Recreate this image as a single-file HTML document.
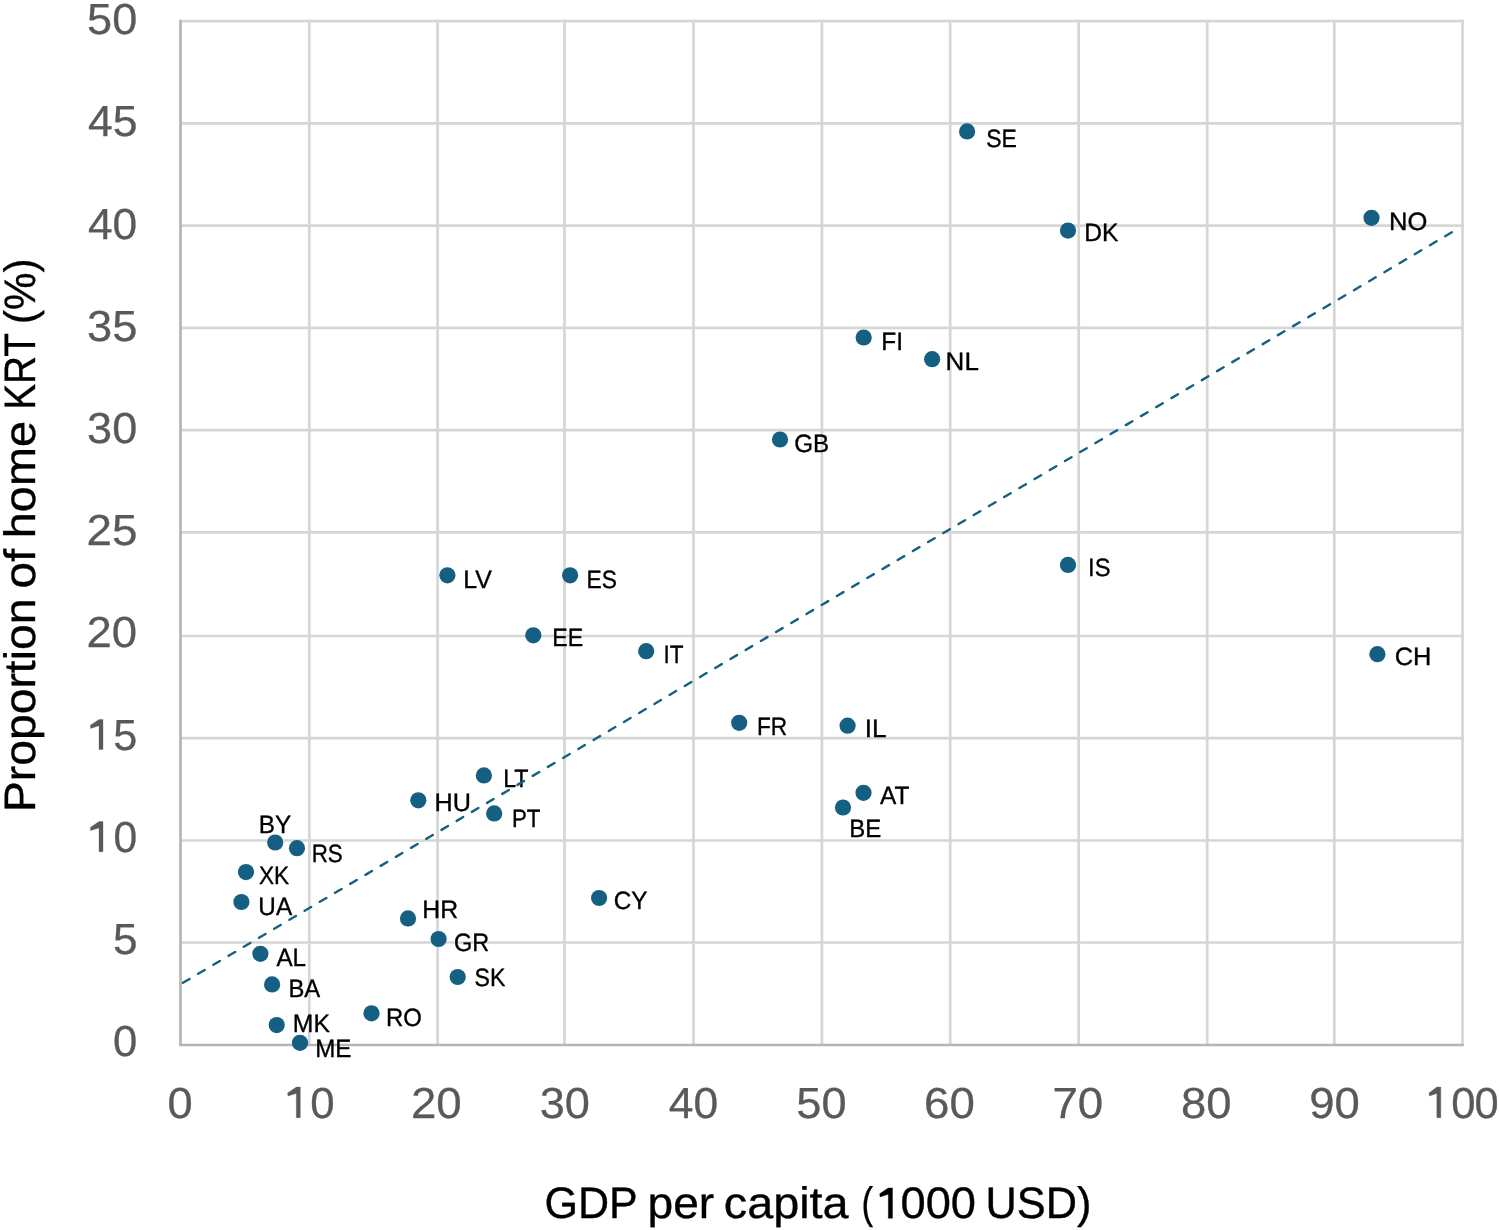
<!DOCTYPE html>
<html><head><meta charset="utf-8"><style>
html,body{margin:0;padding:0;background:#fff;overflow:hidden;}
svg{display:block;will-change:transform;}
text{font-family:"Liberation Sans",sans-serif;text-rendering:geometricPrecision;}
</style></head><body>
<svg width="1499" height="1230" viewBox="0 0 1499 1230">

<line x1="309.3" y1="19.75" x2="309.3" y2="1045.0" stroke="#d6d6d6" stroke-width="2.7"/>
<line x1="437.6" y1="19.75" x2="437.6" y2="1045.0" stroke="#d6d6d6" stroke-width="2.7"/>
<line x1="564.5" y1="19.75" x2="564.5" y2="1045.0" stroke="#d6d6d6" stroke-width="2.7"/>
<line x1="693.5" y1="19.75" x2="693.5" y2="1045.0" stroke="#d6d6d6" stroke-width="2.7"/>
<line x1="821.9" y1="19.75" x2="821.9" y2="1045.0" stroke="#d6d6d6" stroke-width="2.7"/>
<line x1="950.2" y1="19.75" x2="950.2" y2="1045.0" stroke="#d6d6d6" stroke-width="2.7"/>
<line x1="1078.7" y1="19.75" x2="1078.7" y2="1045.0" stroke="#d6d6d6" stroke-width="2.7"/>
<line x1="1207.2" y1="19.75" x2="1207.2" y2="1045.0" stroke="#d6d6d6" stroke-width="2.7"/>
<line x1="1334.3" y1="19.75" x2="1334.3" y2="1045.0" stroke="#d6d6d6" stroke-width="2.7"/>
<line x1="1462.5" y1="19.75" x2="1462.5" y2="1045.0" stroke="#d6d6d6" stroke-width="2.7"/>
<line x1="180.5" y1="942.5" x2="1463.85" y2="942.5" stroke="#d6d6d6" stroke-width="2.7"/>
<line x1="180.5" y1="840.5" x2="1463.85" y2="840.5" stroke="#d6d6d6" stroke-width="2.7"/>
<line x1="180.5" y1="738.06" x2="1463.85" y2="738.06" stroke="#d6d6d6" stroke-width="2.7"/>
<line x1="180.5" y1="636.0" x2="1463.85" y2="636.0" stroke="#d6d6d6" stroke-width="2.7"/>
<line x1="180.5" y1="532.3" x2="1463.85" y2="532.3" stroke="#d6d6d6" stroke-width="2.7"/>
<line x1="180.5" y1="430.06" x2="1463.85" y2="430.06" stroke="#d6d6d6" stroke-width="2.7"/>
<line x1="180.5" y1="327.8" x2="1463.85" y2="327.8" stroke="#d6d6d6" stroke-width="2.7"/>
<line x1="180.5" y1="225.7" x2="1463.85" y2="225.7" stroke="#d6d6d6" stroke-width="2.7"/>
<line x1="180.5" y1="123.3" x2="1463.85" y2="123.3" stroke="#d6d6d6" stroke-width="2.7"/>
<line x1="180.5" y1="21.1" x2="1463.85" y2="21.1" stroke="#d6d6d6" stroke-width="2.7"/>
<line x1="180.5" y1="19.75" x2="180.5" y2="1044.70" stroke="#b5b5b5" stroke-width="2.7"/>
<line x1="179.2" y1="1045.0" x2="1463.85" y2="1045.0" stroke="#b5b5b5" stroke-width="2.6"/>
<text transform="translate(112.95,1056.20) scale(1.0024,1)" font-size="43.5" fill="#595959" stroke="#595959" stroke-width="0.3">0</text>
<text transform="translate(112.92,954.00) scale(1.0146,1)" font-size="43.5" fill="#595959" stroke="#595959" stroke-width="0.3">5</text>
<path d="M99.00,821.60L103.00,821.60L103.00,851.80L99.00,851.80L99.00,828.00L90.70,830.60L90.30,827.40Z" fill="#595959" stroke="#595959" stroke-width="0.3"/>
<text transform="translate(113.39,851.80) scale(0.9783,1)" font-size="43.5" fill="#595959" stroke="#595959" stroke-width="0.3">0</text>
<path d="M99.00,719.40L103.00,719.40L103.00,749.60L99.00,749.60L99.00,725.80L90.70,728.40L90.30,725.20Z" fill="#595959" stroke="#595959" stroke-width="0.3"/>
<text transform="translate(113.37,749.60) scale(0.9902,1)" font-size="43.5" fill="#595959" stroke="#595959" stroke-width="0.3">5</text>
<text transform="translate(86.54,647.40) scale(1.0472,1)" font-size="43.5" fill="#595959" stroke="#595959" stroke-width="0.3">20</text>
<text transform="translate(86.53,545.20) scale(1.0531,1)" font-size="43.5" fill="#595959" stroke="#595959" stroke-width="0.3">25</text>
<text transform="translate(87.09,443.00) scale(1.0356,1)" font-size="43.5" fill="#595959" stroke="#595959" stroke-width="0.3">30</text>
<text transform="translate(87.08,340.80) scale(1.0413,1)" font-size="43.5" fill="#595959" stroke="#595959" stroke-width="0.3">35</text>
<text transform="translate(87.88,238.60) scale(1.0186,1)" font-size="43.5" fill="#595959" stroke="#595959" stroke-width="0.3">40</text>
<text transform="translate(87.88,136.40) scale(1.0242,1)" font-size="43.5" fill="#595959" stroke="#595959" stroke-width="0.3">45</text>
<text transform="translate(87.09,34.20) scale(1.0356,1)" font-size="43.5" fill="#595959" stroke="#595959" stroke-width="0.3">50</text>
<text transform="translate(167.38,1117.70) scale(1.0410,1)" font-size="43.5" fill="#595959" stroke="#595959" stroke-width="0.3">0</text>
<path d="M296.30,1087.10L300.30,1087.10L300.30,1117.70L296.30,1117.70L296.30,1093.50L288.00,1096.10L287.60,1092.90Z" fill="#595959" stroke="#595959" stroke-width="0.3"/>
<text transform="translate(310.14,1117.70) scale(1.0072,1)" font-size="43.5" fill="#595959" stroke="#595959" stroke-width="0.3">0</text>
<text transform="translate(410.89,1117.70) scale(1.0494,1)" font-size="43.5" fill="#595959" stroke="#595959" stroke-width="0.3">20</text>
<text transform="translate(539.73,1117.70) scale(1.0378,1)" font-size="43.5" fill="#595959" stroke="#595959" stroke-width="0.3">30</text>
<text transform="translate(668.83,1117.70) scale(1.0208,1)" font-size="43.5" fill="#595959" stroke="#595959" stroke-width="0.3">40</text>
<text transform="translate(796.33,1117.70) scale(1.0378,1)" font-size="43.5" fill="#595959" stroke="#595959" stroke-width="0.3">50</text>
<text transform="translate(924.09,1117.70) scale(1.0494,1)" font-size="43.5" fill="#595959" stroke="#595959" stroke-width="0.3">60</text>
<text transform="translate(1052.39,1117.70) scale(1.0494,1)" font-size="43.5" fill="#595959" stroke="#595959" stroke-width="0.3">70</text>
<text transform="translate(1180.96,1117.70) scale(1.0436,1)" font-size="43.5" fill="#595959" stroke="#595959" stroke-width="0.3">80</text>
<text transform="translate(1309.26,1117.70) scale(1.0436,1)" font-size="43.5" fill="#595959" stroke="#595959" stroke-width="0.3">90</text>
<path d="M1436.80,1087.10L1440.80,1087.10L1440.80,1117.70L1436.80,1117.70L1436.80,1093.50L1429.40,1096.10L1429.00,1092.90Z" fill="#595959" stroke="#595959" stroke-width="0.3"/>
<text transform="translate(1451.25,1117.70) scale(1.0024,1)" font-size="43.5" fill="#595959" stroke="#595959" stroke-width="0.3">0</text>
<text transform="translate(1474.55,1117.70) scale(0.9976,1)" font-size="43.5" fill="#595959" stroke="#595959" stroke-width="0.3">0</text>
<text transform="translate(544.50,1218.30) scale(0.9774,1)" font-size="44" fill="#000" stroke="#000" stroke-width="0.35">GDP</text>
<text transform="translate(647.52,1218.30) scale(1.0483,1)" font-size="44" fill="#000" stroke="#000" stroke-width="0.35">per</text>
<text transform="translate(723.77,1218.30) scale(1.0632,1)" font-size="44" fill="#000" stroke="#000" stroke-width="0.35">capita</text>
<text transform="translate(861.52,1218.30) scale(0.7913,1)" font-size="44" fill="#000" stroke="#000" stroke-width="0.35">(</text>
<text transform="translate(900.50,1218.30) scale(1.0286,1)" font-size="44" fill="#000" stroke="#000" stroke-width="0.35">000</text>
<text transform="translate(985.55,1218.30) scale(0.9847,1)" font-size="44" fill="#000" stroke="#000" stroke-width="0.35">USD)</text>
<path d="M888.30,1187.90L892.50,1187.90L892.50,1218.30L888.30,1218.30L888.30,1194.30L880.10,1196.90L879.70,1193.70Z" fill="#000" stroke="#000" stroke-width="0.35"/>
<text transform="translate(34.7,812.08) rotate(-90) scale(1.0521,1)" font-size="44" fill="#000" stroke="#000" stroke-width="0.35">Proportion</text>
<text transform="translate(34.7,588.60) rotate(-90) scale(1.0857,1)" font-size="44" fill="#000" stroke="#000" stroke-width="0.35">of</text>
<text transform="translate(34.7,538.19) rotate(-90) scale(1.0641,1)" font-size="44" fill="#000" stroke="#000" stroke-width="0.35">home</text>
<text transform="translate(34.7,409.78) rotate(-90) scale(0.8810,1)" font-size="44" fill="#000" stroke="#000" stroke-width="0.35">KRT</text>
<text transform="translate(34.7,324.04) rotate(-90) scale(0.9603,1)" font-size="44" fill="#000" stroke="#000" stroke-width="0.35">(%)</text>
<circle cx="967.1" cy="131.4" r="8.1" fill="#156082"/>
<circle cx="1371.5" cy="217.8" r="8.1" fill="#156082"/>
<circle cx="1068" cy="230.6" r="8.1" fill="#156082"/>
<circle cx="863.7" cy="337.5" r="8.1" fill="#156082"/>
<circle cx="932.1" cy="359.2" r="8.1" fill="#156082"/>
<circle cx="780" cy="439.5" r="8.1" fill="#156082"/>
<circle cx="1068" cy="564.9" r="8.1" fill="#156082"/>
<circle cx="447.4" cy="575.3" r="8.1" fill="#156082"/>
<circle cx="570.1" cy="575.3" r="8.1" fill="#156082"/>
<circle cx="533.3" cy="635.3" r="8.1" fill="#156082"/>
<circle cx="646.2" cy="651.2" r="8.1" fill="#156082"/>
<circle cx="1377.4" cy="654.2" r="8.1" fill="#156082"/>
<circle cx="739.2" cy="722.8" r="8.1" fill="#156082"/>
<circle cx="847.6" cy="725.7" r="8.1" fill="#156082"/>
<circle cx="483.9" cy="775.4" r="8.1" fill="#156082"/>
<circle cx="418.3" cy="800.3" r="8.1" fill="#156082"/>
<circle cx="494.2" cy="813.4" r="8.1" fill="#156082"/>
<circle cx="863.5" cy="792.8" r="8.1" fill="#156082"/>
<circle cx="843" cy="807.5" r="8.1" fill="#156082"/>
<circle cx="275.2" cy="842.5" r="8.1" fill="#156082"/>
<circle cx="297" cy="848.2" r="8.1" fill="#156082"/>
<circle cx="246" cy="872.1" r="8.1" fill="#156082"/>
<circle cx="241.4" cy="902" r="8.1" fill="#156082"/>
<circle cx="599.1" cy="898" r="8.1" fill="#156082"/>
<circle cx="408" cy="918.4" r="8.1" fill="#156082"/>
<circle cx="438.6" cy="939" r="8.1" fill="#156082"/>
<circle cx="457.7" cy="977" r="8.1" fill="#156082"/>
<circle cx="260.4" cy="953.8" r="8.1" fill="#156082"/>
<circle cx="272.1" cy="984.4" r="8.1" fill="#156082"/>
<circle cx="276.7" cy="1025.1" r="8.1" fill="#156082"/>
<circle cx="300" cy="1042.8" r="8.1" fill="#156082"/>
<circle cx="371.5" cy="1013.3" r="8.1" fill="#156082"/>
<text transform="translate(986.25,146.75) scale(0.9194,1)" font-size="25" fill="#000" stroke="#000" stroke-width="0.35">SE</text>
<text transform="translate(1388.96,229.70) scale(1.0219,1)" font-size="25" fill="#000" stroke="#000" stroke-width="0.35">NO</text>
<text transform="translate(1084.33,241.20) scale(0.9829,1)" font-size="25" fill="#000" stroke="#000" stroke-width="0.35">DK</text>
<text transform="translate(881.24,349.90) scale(0.9778,1)" font-size="25" fill="#000" stroke="#000" stroke-width="0.35">FI</text>
<text transform="translate(945.62,370.00) scale(1.0393,1)" font-size="25" fill="#000" stroke="#000" stroke-width="0.35">NL</text>
<text transform="translate(794.19,451.50) scale(0.9672,1)" font-size="25" fill="#000" stroke="#000" stroke-width="0.35">GB</text>
<text transform="translate(1088.07,575.70) scale(0.9481,1)" font-size="25" fill="#000" stroke="#000" stroke-width="0.35">IS</text>
<text transform="translate(463.21,587.70) scale(0.9962,1)" font-size="25" fill="#000" stroke="#000" stroke-width="0.35">LV</text>
<text transform="translate(586.48,587.70) scale(0.9124,1)" font-size="25" fill="#000" stroke="#000" stroke-width="0.35">ES</text>
<text transform="translate(552.35,645.80) scale(0.9256,1)" font-size="25" fill="#000" stroke="#000" stroke-width="0.35">EE</text>
<text transform="translate(663.48,663.20) scale(0.8974,1)" font-size="25" fill="#000" stroke="#000" stroke-width="0.35">IT</text>
<text transform="translate(1394.73,665.00) scale(1.0168,1)" font-size="25" fill="#000" stroke="#000" stroke-width="0.35">CH</text>
<text transform="translate(756.99,735.00) scale(0.9067,1)" font-size="25" fill="#000" stroke="#000" stroke-width="0.35">FR</text>
<text transform="translate(864.65,736.50) scale(1.0423,1)" font-size="25" fill="#000" stroke="#000" stroke-width="0.35">IL</text>
<text transform="translate(503.14,787.20) scale(0.9293,1)" font-size="25" fill="#000" stroke="#000" stroke-width="0.35">LT</text>
<text transform="translate(434.48,810.70) scale(1.0078,1)" font-size="25" fill="#000" stroke="#000" stroke-width="0.35">HU</text>
<text transform="translate(511.92,826.70) scale(0.8915,1)" font-size="25" fill="#000" stroke="#000" stroke-width="0.35">PT</text>
<text transform="translate(880.10,804.00) scale(0.9763,1)" font-size="25" fill="#000" stroke="#000" stroke-width="0.35">AT</text>
<text transform="translate(849.18,837.40) scale(0.9587,1)" font-size="25" fill="#000" stroke="#000" stroke-width="0.35">BE</text>
<text transform="translate(258.86,833.10) scale(0.9724,1)" font-size="25" fill="#000" stroke="#000" stroke-width="0.35">BY</text>
<text transform="translate(311.71,861.90) scale(0.8952,1)" font-size="25" fill="#000" stroke="#000" stroke-width="0.35">RS</text>
<text transform="translate(259.02,884.00) scale(0.9054,1)" font-size="25" fill="#000" stroke="#000" stroke-width="0.35">XK</text>
<text transform="translate(258.36,914.60) scale(0.9710,1)" font-size="25" fill="#000" stroke="#000" stroke-width="0.35">UA</text>
<text transform="translate(613.79,908.80) scale(0.9710,1)" font-size="25" fill="#000" stroke="#000" stroke-width="0.35">CY</text>
<text transform="translate(422.22,917.70) scale(0.9924,1)" font-size="25" fill="#000" stroke="#000" stroke-width="0.35">HR</text>
<text transform="translate(454.03,951.20) scale(0.9371,1)" font-size="25" fill="#000" stroke="#000" stroke-width="0.35">GR</text>
<text transform="translate(474.44,986.10) scale(0.9260,1)" font-size="25" fill="#000" stroke="#000" stroke-width="0.35">SK</text>
<text transform="translate(276.40,965.90) scale(0.9681,1)" font-size="25" fill="#000" stroke="#000" stroke-width="0.35">AL</text>
<text transform="translate(288.39,996.50) scale(0.9536,1)" font-size="25" fill="#000" stroke="#000" stroke-width="0.35">BA</text>
<text transform="translate(292.82,1031.70) scale(0.9914,1)" font-size="25" fill="#000" stroke="#000" stroke-width="0.35">MK</text>
<text transform="translate(315.17,1056.60) scale(0.9652,1)" font-size="25" fill="#000" stroke="#000" stroke-width="0.35">ME</text>
<text transform="translate(386.09,1025.70) scale(0.9547,1)" font-size="25" fill="#000" stroke="#000" stroke-width="0.35">RO</text>
<line x1="181.9" y1="983.4" x2="1452.8" y2="231.7" stroke="#156082" stroke-width="2.4" stroke-linecap="round" stroke-dasharray="7.600 10.069" transform="translate(1.033,-0.611)"/>
</svg>
</body></html>
